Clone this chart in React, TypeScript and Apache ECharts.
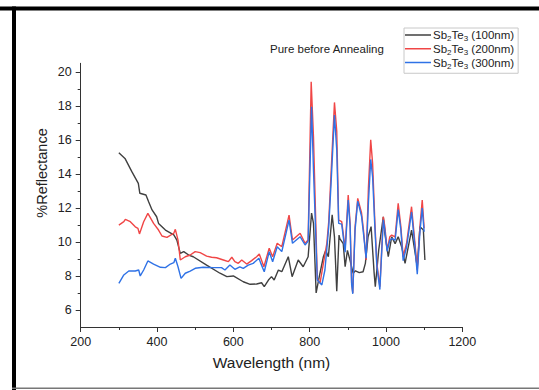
import React, { useEffect, useRef } from "react";
import * as echarts from "echarts";

const FONT = "'Liberation Sans', Arial, sans-serif";

const seriesNames = ["Sb2Te3 (100nm)", "Sb2Te3 (200nm)", "Sb2Te3 (300nm)"];
const seriesColors = ["#404040", "#f04646", "#2f72e6"];

const wl100 = [300, 316, 334, 351, 355, 371, 378, 387, 399, 404, 422, 444, 452, 461, 470, 483, 495, 530, 565, 583, 600, 626, 644, 661, 674, 681, 692, 700, 707, 718, 727, 744, 754, 770, 783, 796, 805, 810, 817, 827, 836, 842, 849, 859, 865, 871, 877, 879, 888, 893, 899, 906, 914, 920, 930, 940, 946, 953, 961, 969, 972, 981, 993, 997, 1006, 1015, 1024, 1032, 1041, 1050, 1067, 1082, 1089, 1098, 1102];
const r100 = [15.24, 14.91, 14.13, 13.44, 12.86, 12.76, 12.36, 11.88, 11.48, 11.09, 10.7, 10.41, 10.11, 9.33, 9.43, 9.23, 9.13, 8.64, 8.16, 7.96, 8.0, 7.66, 7.51, 7.53, 7.6, 7.37, 7.76, 7.96, 7.76, 8.35, 8.25, 9.13, 7.96, 8.94, 8.54, 9.13, 11.7, 11.09, 7.0, 8.16, 9.13, 9.5, 9.13, 11.6, 10.3, 7.1, 10.4, 10.2, 9.9, 8.54, 9.5, 8.9, 8.16, 8.3, 8.2, 8.25, 8.74, 10.3, 10.9, 8.16, 7.37, 9.53, 11.48, 10.5, 9.13, 10.3, 9.9, 10.3, 9.72, 8.74, 10.7, 8.54, 10.9, 10.7, 8.94];

const wl200 = [300, 313, 317, 330, 343, 350, 354, 365, 376, 391, 404, 413, 426, 444, 448, 455, 461, 474, 487, 500, 513, 530, 543, 556, 574, 587, 596, 604, 613, 622, 635, 648, 661, 668, 672, 680, 694, 703, 715, 727, 746, 755, 775, 788, 796, 804, 810, 820, 827, 836, 845, 850, 856, 865, 871, 876, 884, 893, 901, 906, 910, 913, 919, 926, 936, 941, 948, 954, 960, 965, 971, 976, 984, 993, 997, 1003, 1010, 1015, 1024, 1032, 1039, 1045, 1054, 1067, 1076, 1082, 1089, 1095, 1100];
const r200 = [10.99, 11.19, 11.33, 11.19, 10.89, 10.8, 10.47, 11.19, 11.68, 11.09, 10.7, 10.35, 10.27, 10.51, 10.74, 10.11, 8.94, 9.13, 9.23, 9.43, 9.37, 9.17, 9.1, 9.07, 8.94, 8.84, 9.1, 8.84, 8.74, 8.94, 8.7, 8.9, 9.13, 9.29, 9.04, 8.54, 9.63, 9.13, 9.92, 9.72, 11.58, 10.11, 10.51, 9.92, 10.11, 19.41, 16.18, 7.86, 7.57, 8.74, 9.92, 11.2, 14.0, 18.2, 16.5, 11.29, 11.19, 9.6, 12.76, 11.1, 7.6, 7.0, 10.9, 12.56, 11.7, 10.7, 8.94, 13.2, 16.0, 14.6, 11.1, 8.74, 7.37, 11.48, 10.9, 9.53, 10.3, 10.4, 10.3, 12.27, 10.9, 9.13, 9.92, 12.07, 9.92, 8.35, 10.9, 12.46, 10.8];

const wl300 = [300, 313, 326, 343, 352, 356, 365, 376, 391, 409, 422, 435, 444, 448, 455, 463, 474, 487, 500, 521, 547, 569, 578, 591, 604, 617, 626, 639, 652, 667, 672, 681, 694, 703, 715, 727, 746, 755, 775, 788, 796, 805, 810, 820, 832, 840, 845, 850, 856, 865, 871, 876, 884, 893, 901, 906, 910, 913, 919, 926, 936, 941, 948, 954, 960, 965, 971, 976, 984, 993, 997, 1003, 1010, 1015, 1024, 1032, 1039, 1045, 1054, 1067, 1076, 1082, 1089, 1095, 1100];
const r300 = [7.57, 8.06, 8.29, 8.29, 8.35, 8.0, 8.35, 8.88, 8.7, 8.51, 8.49, 8.7, 8.78, 9.04, 8.54, 7.86, 8.16, 8.29, 8.45, 8.51, 8.49, 8.49, 8.35, 8.64, 8.39, 8.54, 8.45, 8.64, 8.74, 9.04, 8.74, 8.25, 9.43, 8.84, 9.72, 9.43, 11.29, 9.92, 10.31, 9.82, 10.05, 17.94, 14.23, 7.76, 7.47, 8.35, 9.6, 10.9, 13.4, 17.46, 15.4, 11.09, 11.05, 9.4, 12.46, 10.9, 7.5, 6.95, 10.7, 12.4, 11.5, 10.5, 9.05, 12.3, 14.85, 13.8, 10.8, 8.6, 7.2, 11.3, 10.7, 9.45, 10.1, 10.2, 10.1, 11.9, 10.7, 8.9, 9.7, 11.76, 9.7, 8.1, 10.6, 11.99, 10.6];

const yLabelValues = [6, 8, 10, 12, 14, 16, 18, 20];
const yMinorValues = [7, 9, 11, 13, 15, 17, 19];

const pair = (xs: number[], ys: number[]) => xs.map((x, i) => [x, ys[i]]);

export default function App() {
  const ref = useRef<HTMLDivElement>(null);
  useEffect(() => {
    if (!ref.current) return;
    const chart = echarts.init(ref.current, undefined, { renderer: "svg" });
    const datasets = [pair(wl100, r100), pair(wl200, r200), pair(wl300, r300)];
    const gridLeft = 80.7;
    const gridTop = 63.3;
    const gridW = 381.6;
    const gridH = 263.7;
    chart.setOption({
      animation: false,
      backgroundColor: "#fff",
      textStyle: { fontFamily: FONT },
      grid: { left: gridLeft, top: gridTop, width: gridW, height: gridH, containLabel: false },
      xAxis: {
        type: "value",
        min: 200,
        max: 1200,
        interval: 200,
        axisLine: { show: true, lineStyle: { color: "#333", width: 1 } },
        axisTick: { show: true, length: 5, inside: false, lineStyle: { color: "#333" } },
        minorTick: { show: true, splitNumber: 2, length: 3, lineStyle: { color: "#333" } },
        axisLabel: { color: "#222", fontSize: 12.5, margin: 8, fontFamily: FONT, formatter: (v: number) => String(v) },
        splitLine: { show: false },
      },
      yAxis: [
        {
          type: "value",
          min: 5,
          max: 20.5,
          axisLine: { show: true, lineStyle: { color: "#333", width: 1 } },
          axisTick: { show: true, length: 5, customValues: yLabelValues, lineStyle: { color: "#333" } },
          axisLabel: { color: "#222", fontSize: 12.5, margin: 9, customValues: yLabelValues, fontFamily: FONT, formatter: (v: number) => String(v) },
          splitLine: { show: false },
        },
        {
          type: "value",
          min: 5,
          max: 20.5,
          position: "left",
          axisLine: { show: false },
          axisTick: { show: true, length: 3, customValues: yMinorValues, lineStyle: { color: "#333" } },
          axisLabel: { show: false },
          splitLine: { show: false },
        },
      ],
      legend: {
        left: 404,
        top: 28,
        orient: "vertical",
        borderColor: "#c8c8c8",
        borderWidth: 1,
        borderRadius: 0,
        padding: [1, 4, 3, 1],
        itemGap: 0,
        itemWidth: 26,
        itemHeight: 1.5,
        icon: "rect",
        data: seriesNames,
        formatter: (name: string) => {
          const m = name.match(/\((.*)\)/);
          return `{n|Sb}{s|2}{n|Te}{s|3}{n| (${m ? m[1] : ""})}`;
        },
        textStyle: {
          padding: [0, 0, 0, -3],
          rich: {
            n: { fontSize: 11.5, lineHeight: 15.5, color: "#222", fontFamily: FONT },
            s: { fontSize: 8, lineHeight: 9.5, verticalAlign: "bottom", color: "#222", fontFamily: FONT },
          },
        },
      },
      graphic: [
        { type: "rect", left: 0, top: 6.5, shape: { width: 539, height: 4 }, style: { fill: "#000" }, silent: true },
        { type: "rect", left: 12, top: 6.5, shape: { width: 4, height: 384 }, style: { fill: "#000" }, silent: true },
        { type: "rect", left: 12, top: 387.5, shape: { width: 527, height: 1.5 }, style: { fill: "#777" }, silent: true },
        {
          type: "text",
          x: 270,
          y: 49,
          style: { text: "Pure before Annealing", fontSize: 11.5, fontFamily: FONT, fill: "#222", verticalAlign: "middle", align: "left" },
        },
        {
          type: "text",
          x: 42,
          y: 173,
          rotation: Math.PI / 2,
          style: { text: "%Reflectance", fontSize: 14.5, fontFamily: FONT, fill: "#222", verticalAlign: "middle", align: "center" },
        },
        {
          type: "text",
          x: 271.5,
          y: 362.5,
          style: { text: "Wavelength (nm)", fontSize: 15.5, fontFamily: FONT, fill: "#222", verticalAlign: "middle", align: "center" },
        },
      ],
      series: datasets.map((d, i) => ({
        name: seriesNames[i],
        type: "line",
        data: d,
        showSymbol: false,
        symbol: "none",
        smooth: false,
        color: seriesColors[i],
        lineStyle: { color: seriesColors[i], width: 1.4 },
        z: 2 + i,
      })),
    });
    return () => chart.dispose();
  }, []);
  return (
    <div
      ref={ref}
      style={{ position: "absolute", left: 0, top: 0, width: 539, height: 390, background: "#fff" }}
    />
  );
}
